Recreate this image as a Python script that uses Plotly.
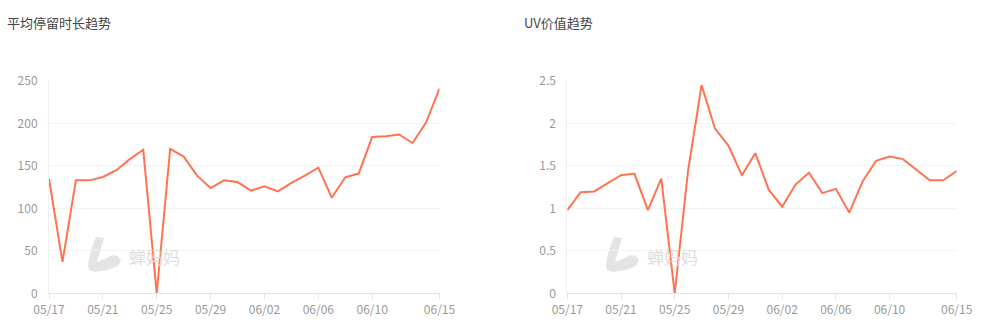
import plotly.graph_objects as go
import pandas as pd

dates = pd.date_range("2025-05-17", "2025-06-15", freq="D")
stay_time = [135, 37, 133, 133, 137, 145, 158, 169, 0, 170, 161, 138.5, 124, 133, 131,
             121, 126, 120, 130, 138.5, 148, 112.6, 136.6, 141, 184, 185, 187, 177, 201, 241]
uv_value = [0.98, 1.19, 1.20, 1.29, 1.39, 1.41, 0.98, 1.35, 0, 1.45, 2.45, 1.94, 1.74, 1.39, 1.65,
            1.22, 1.02, 1.28, 1.42, 1.18, 1.23, 0.95, 1.32, 1.56, 1.61, 1.58, 1.45, 1.33, 1.33, 1.44]
tick_dates = ["2025-05-17", "2025-05-21", "2025-05-25", "2025-05-29", "2025-06-02",
              "2025-06-06", "2025-06-10", "2025-06-15"]
tick_labels = ["05/17", "05/21", "05/25", "05/29", "06/02", "06/06", "06/10", "06/15"]
titles = ["平均停留时长趋势", "UV价值趋势"]

W, H = 989, 325
LINE = "#ff7350"
FONT = "Noto Sans CJK SC, Noto Sans, sans-serif"

def px_x(p):
    return p / W

def px_y(p):
    return 1 - p / H

fig = go.Figure()
fig.add_trace(go.Scatter(x=dates, y=stay_time, mode="lines", line=dict(color=LINE, width=2),
                         xaxis="x", yaxis="y", showlegend=False))
fig.add_trace(go.Scatter(x=dates, y=uv_value, mode="lines", line=dict(color=LINE, width=2),
                         xaxis="x2", yaxis="y2", showlegend=False))

ydom = [px_y(293.3), px_y(81)]
xcommon = dict(type="date", range=[dates[0], dates[-1]], tickvals=tick_dates, ticktext=tick_labels,
               showgrid=False, showline=True, linecolor="#e0e3ea", linewidth=1,
               ticks="outside", ticklen=5, tickcolor="#e0e3ea", automargin=False,
               tickfont=dict(size=12, color="#999999", family=FONT), zeroline=False)
ycommon = dict(showgrid=True, gridcolor="#f3f3f3", gridwidth=1, showline=True, linecolor="#f0f0f0",
               ticks="", tickfont=dict(size=12, color="#999999", family=FONT), zeroline=False,
               ticklabelstandoff=8, automargin=False)

fig.update_layout(
    width=W, height=H, margin=dict(l=0, r=0, t=0, b=0, autoexpand=False),
    plot_bgcolor="white", paper_bgcolor="white",
    font=dict(family=FONT),
    xaxis=dict(domain=[px_x(49), px_x(439.5)], anchor="y", **xcommon),
    yaxis=dict(domain=ydom, anchor="x", range=[0, 250], tickvals=[0, 50, 100, 150, 200, 250], **ycommon),
    xaxis2=dict(domain=[px_x(567.3), px_x(956.7)], anchor="y2", **xcommon),
    yaxis2=dict(domain=ydom, anchor="x2", range=[0, 2.5], tickvals=[0, 0.5, 1, 1.5, 2, 2.5],
                ticktext=["0", "0.5", "1", "1.5", "2", "2.5"], **ycommon),
)

for tx, t in zip([5, 522], titles):
    fig.add_annotation(text=t, xref="paper", yref="paper", x=px_x(tx), y=px_y(22),
                       xanchor="left", yanchor="middle", showarrow=False,
                       font=dict(size=13, color="#444444", family=FONT))

# watermark
logo = [(8, 0), (16, 1), (12, 15), (9, 25), (19, 21), (24, 18), (30, 19), (33, 23),
        (30, 29), (20, 33), (7, 35), (1, 33), (0, 27), (3, 13)]
for lx in [88, 606]:
    fig.add_annotation(text="蝉妈妈", xref="paper", yref="paper", x=px_x(lx + 39), y=px_y(256),
                       xanchor="left", yanchor="middle", showarrow=False,
                       font=dict(size=17, color="#dedede", family=FONT))
    pts = [f"{px_x(lx + dx)} {px_y(237 + dy)}" for dx, dy in logo]
    path = "M " + " L ".join(pts) + " Z"
    fig.add_shape(type="path", xref="paper", yref="paper", path=path,
                  fillcolor="#e4e4e4", line=dict(width=0), layer="below")

fig.write_html("out.html")
